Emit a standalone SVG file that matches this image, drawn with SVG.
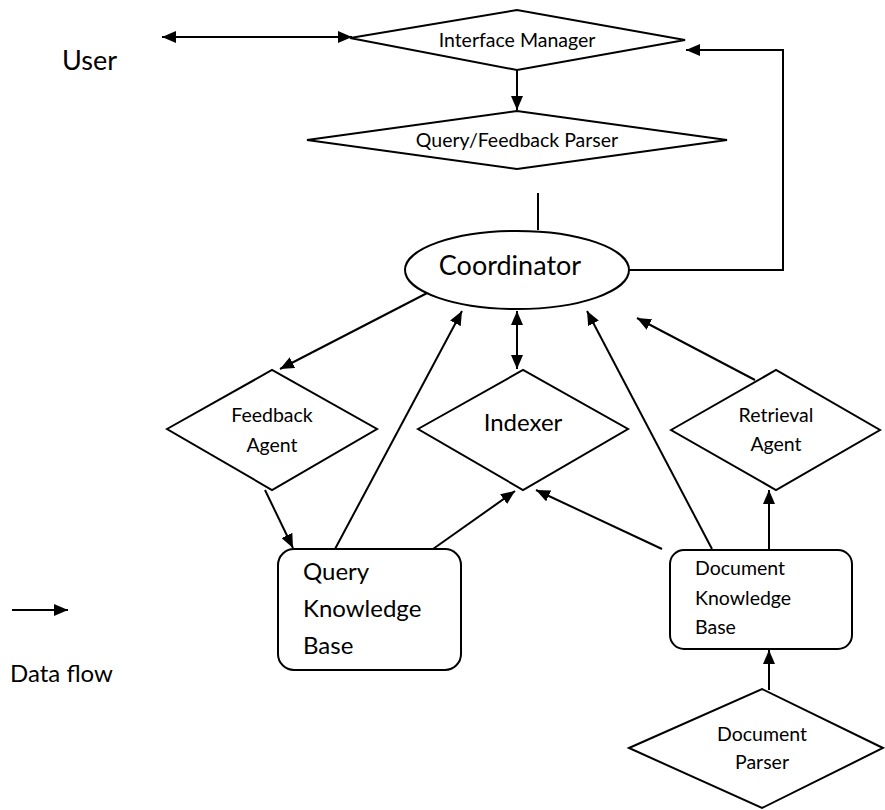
<svg xmlns="http://www.w3.org/2000/svg" width="885" height="810" viewBox="0 0 885 810">
<style>
.s{fill:#fff;stroke:#000;stroke-width:2}
.c{fill:none;stroke:#000;stroke-width:2}
.a{marker-end:url(#ah)}
.b{marker-start:url(#ah);marker-end:url(#ah)}
text{font-family:Lato,"Open Sans","Liberation Sans",sans-serif;fill:#000}
.m{text-anchor:middle}
.f14{font-size:19.5px}
.f16{font-size:19.5px}
.f20{font-size:24px}
.f22{font-size:27px}
</style>
<defs>
<marker id="ah" viewBox="0 0 14 12" refX="14" refY="6" markerWidth="14" markerHeight="12" markerUnits="userSpaceOnUse" orient="auto-start-reverse">
<path d="M0,0 L14,6 L0,12 z" fill="#000"/>
</marker>
</defs>
<rect width="885" height="810" fill="#fff"/>
<g id="connectors">
<line class="c b" x1="162" y1="37" x2="352" y2="37"/>
<line class="c a" x1="517" y1="70" x2="517" y2="110"/>
<line class="c" x1="538" y1="193" x2="538" y2="230"/>
<polyline class="c a" points="629,270 783,270 783,50 686,50"/>
<line class="c a" x1="433" y1="290" x2="280" y2="369"/>
<line class="c a" x1="335" y1="549" x2="462" y2="311"/>
<line class="c b" x1="517" y1="311" x2="517" y2="369"/>
<line class="c a" x1="712" y1="549" x2="587" y2="311"/>
<line class="c a" x1="755" y1="380" x2="637" y2="318"/>
<line class="c a" x1="265" y1="490" x2="293" y2="548"/>
<line class="c a" x1="433" y1="549" x2="515" y2="491"/>
<line class="c a" x1="662" y1="549" x2="536" y2="490"/>
<line class="c a" x1="769" y1="549" x2="769" y2="490"/>
<line class="c a" x1="769" y1="690" x2="769" y2="650"/>
</g>
<g id="user"><text class="f22" x="62" y="70">User</text></g>
<g id="interface-manager">
<polygon class="s" points="350,38 517,10 685,40 517,70"/>
<text class="m f14" x="517" y="47">Interface Manager</text>
</g>
<g id="query-feedback-parser">
<polygon class="s" points="307,140 517,111 727,140 517,169"/>
<text class="m f14" x="517" y="147">Query/Feedback Parser</text>
</g>
<g id="coordinator">
<ellipse class="s" cx="517" cy="270" rx="112" ry="39"/>
<text class="m f22" x="510" y="275">Coordinator</text>
</g>
<g id="feedback-agent">
<polygon class="s" points="167,429 272,370 377,429 272,490"/>
<text class="m f16" x="272" y="422">Feedback</text>
<text class="m f16" x="272" y="452">Agent</text>
</g>
<g id="indexer">
<polygon class="s" points="418,429 523,370 628,429 523,490"/>
<text class="m f20" x="523" y="431">Indexer</text>
</g>
<g id="retrieval-agent">
<polygon class="s" points="671,430 776,370 880,430 776,490"/>
<text class="m f16" x="776" y="422">Retrieval</text>
<text class="m f16" x="776" y="451">Agent</text>
</g>
<g id="query-knowledge-base">
<rect class="s" x="278" y="549" width="183" height="121" rx="16"/>
<text class="f20" x="303" y="580">Query</text>
<text class="f20" x="303" y="617">Knowledge</text>
<text class="f20" x="303" y="654">Base</text>
</g>
<g id="document-knowledge-base">
<rect class="s" x="670" y="550" width="182" height="99" rx="14"/>
<text class="f16" x="695" y="575">Document</text>
<text class="f16" x="695" y="605">Knowledge</text>
<text class="f16" x="695" y="634">Base</text>
</g>
<g id="document-parser">
<polygon class="s" points="629,748 762,689 883,748 762,808"/>
<text class="m f16" x="762" y="741">Document</text>
<text class="m f16" x="762" y="769">Parser</text>
</g>
<g id="legend">
<line class="c a" x1="12" y1="610" x2="68" y2="610"/>
<text class="f20" x="10" y="682">Data flow</text>
</g>
</svg>
